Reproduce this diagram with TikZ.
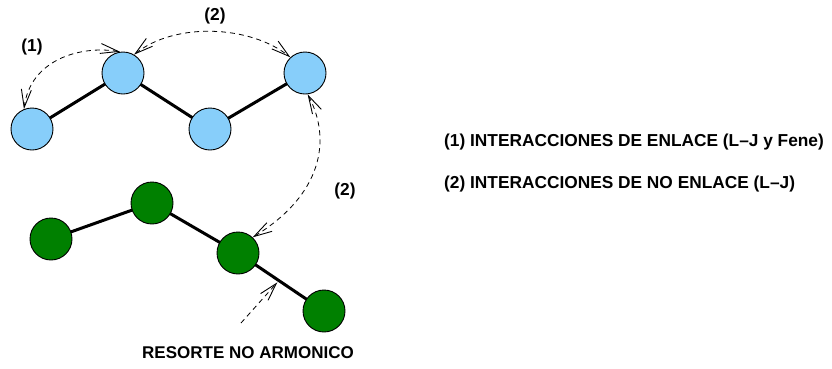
\documentclass[tikz,border=0pt]{standalone}
\usepackage{fontspec}
\setmainfont{Liberation Sans}
\usetikzlibrary{arrows.meta,calc}
\definecolor{beadblue}{RGB}{135,206,250}
\definecolor{beadgreen}{RGB}{0,128,0}
\tikzset{
  bead/.style={circle, draw=black, line width=0.9pt, minimum size=42pt, inner sep=0pt},
  bluebead/.style={bead, fill=beadblue},
  greenbead/.style={bead, fill=beadgreen},
  bond/.style={line width=3pt},
  inter/.style={dash pattern=on 5pt off 4pt, line width=0.8pt},
  lbl/.style={font=\bfseries\fontsize{17.3}{20}\selectfont, inner sep=0pt},
  barbtip/.tip={Straight Barb[length=18pt, width=10pt, line width=0.9pt]}
}
\begin{document}
\begin{tikzpicture}[x=1pt, y=-1pt]
  \useasboundingbox (0,0) rectangle (832,368);

  % bead positions (bonds first, beads drawn on top afterwards)
  \coordinate (p1) at (32,129);
  \coordinate (p2) at (123,73);
  \coordinate (p3) at (210,129);
  \coordinate (p4) at (305,73);
  \coordinate (q1) at (51,239);
  \coordinate (q2) at (152,203);
  \coordinate (q3) at (238,253);
  \coordinate (q4) at (324,311);

  % bonds
  \draw[bond] (p1) -- (p2) -- (p3) -- (p4);
  \draw[bond] (q1) -- (q2) -- (q3) -- (q4);

  % upper chain
  \node[bluebead] (b1) at (p1) {};
  \node[bluebead] (b2) at (p2) {};
  \node[bluebead] (b3) at (p3) {};
  \node[bluebead] (b4) at (p4) {};

  % lower chain
  \node[greenbead] (g1) at (q1) {};
  \node[greenbead] (g2) at (q2) {};
  \node[greenbead] (g3) at (q3) {};
  \node[greenbead] (g4) at (q4) {};

  % interactions
  \draw[inter, barbtip-barbtip]
    (b1.112) .. controls (30,60) and (80,45) .. (b2.98);
  \draw[inter, barbtip-barbtip]
    (b2.59) .. controls (175,22) and (250,25) .. (b4.133);
  \draw[inter, barbtip-barbtip]
    (b4.-83) .. controls (332,140) and (322,195) .. (g3.47);

  % spring marker
  \coordinate (sp) at (241,323);
  \coordinate (spt) at ($(g3)!0.47!(g4)+(-1,2)$);
  \draw[inter, -barbtip] (sp) -- (spt);

  % labels
  \node[lbl] (l1) at (32,47) {(1)};
  \node[lbl] (l2) at (215,16) {(2)};
  \node[lbl] (l3) at (345,191) {(2)};
  \node[lbl, anchor=west] (t1) at (444,142) {(1) INTERACCIONES DE ENLACE (L--J y Fene)};
  \node[lbl, anchor=west] (t2) at (444,184) {(2) INTERACCIONES DE NO ENLACE (L--J)};
  \node[lbl, font=\bfseries\fontsize{17}{20}\selectfont] (t3) at (248,353) {RESORTE NO ARMONICO};
\end{tikzpicture}
\end{document}
